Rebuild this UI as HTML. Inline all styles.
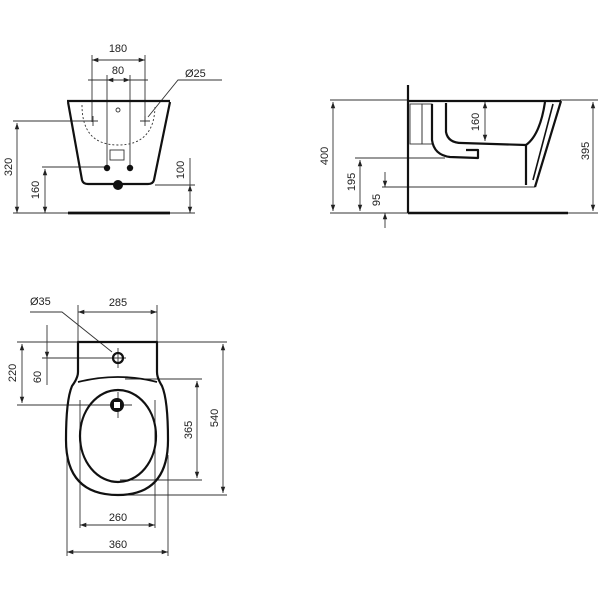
<!DOCTYPE html>
<html><head><style>body{margin:0;background:#fff}svg{display:block}text{font-family:"Liberation Sans",sans-serif;font-size:11px;fill:#222}</style></head><body>
<svg width="600" height="600" viewBox="0 0 600 600">
<defs>
<marker id="a" viewBox="0 0 10 10" refX="10" refY="5" markerWidth="7" markerHeight="7" orient="auto-start-reverse"><path d="M0,1.5 L10,5 L0,8.5z" fill="#222"/></marker>
</defs>
<g stroke="#333" stroke-width="0.9" fill="none">
<line x1="92" y1="60" x2="145" y2="60" marker-start="url(#a)" marker-end="url(#a)"/>
<line x1="107" y1="80" x2="130" y2="80" marker-start="url(#a)" marker-end="url(#a)"/>
<line x1="92" y1="55" x2="92" y2="122"/><line x1="145" y1="55" x2="145" y2="122"/>
<line x1="88" y1="80" x2="107" y2="80"/><line x1="130" y1="80" x2="148" y2="80"/>
<line x1="107" y1="75" x2="107" y2="168"/><line x1="130" y1="75" x2="130" y2="168"/>
<polyline points="222,80 178,80 148,117"/>
<line x1="13" y1="121" x2="92" y2="121"/>
<line x1="17" y1="123" x2="17" y2="213" marker-start="url(#a)" marker-end="url(#a)"/>
<line x1="42" y1="167" x2="107" y2="167"/>
<line x1="45" y1="169" x2="45" y2="213" marker-start="url(#a)" marker-end="url(#a)"/>
<line x1="13" y1="213" x2="68" y2="213"/>
<line x1="155" y1="185" x2="195" y2="185"/><line x1="170" y1="213" x2="195" y2="213"/>
<line x1="190" y1="158" x2="190" y2="185"/>
<line x1="190" y1="185" x2="190" y2="213" marker-start="url(#a)" marker-end="url(#a)"/>
<path d="M82,105 Q82,145 118,145 Q155,145 155,105" stroke-dasharray="2,2"/>
<rect x="110" y="150" width="14" height="10"/>
<circle cx="118" cy="110" r="2"/>
<path d="M88,121 h10 M93,116 v10 M140,121 h10 M145,116 v10"/>
<line x1="330" y1="100" x2="408" y2="100"/><line x1="560" y1="100" x2="598" y2="100"/>
<line x1="333" y1="102" x2="333" y2="211" marker-start="url(#a)" marker-end="url(#a)"/>
<line x1="330" y1="213" x2="408" y2="213"/><line x1="568" y1="213" x2="598" y2="213"/>
<line x1="593" y1="102" x2="593" y2="211" marker-start="url(#a)" marker-end="url(#a)"/>
<line x1="355" y1="158" x2="445" y2="158"/>
<line x1="360" y1="160" x2="360" y2="211" marker-start="url(#a)" marker-end="url(#a)"/>
<line x1="382" y1="187" x2="535" y2="187"/>
<line x1="385" y1="172" x2="385" y2="187" marker-end="url(#a)"/>
<line x1="385" y1="213" x2="385" y2="228" marker-start="url(#a)"/>
<line x1="485" y1="102" x2="485" y2="141" marker-start="url(#a)" marker-end="url(#a)"/>
<rect x="410" y="104" width="12" height="40"/><rect x="422" y="104" width="10" height="40"/>
<polyline points="30,312 62,312 112,352"/>
<line x1="78" y1="312" x2="157" y2="312" marker-start="url(#a)" marker-end="url(#a)"/>
<line x1="78" y1="305" x2="78" y2="342"/><line x1="157" y1="305" x2="157" y2="342"/>
<line x1="17" y1="342" x2="78" y2="342"/><line x1="157" y1="342" x2="227" y2="342"/>
<line x1="22" y1="344" x2="22" y2="403" marker-start="url(#a)" marker-end="url(#a)"/>
<line x1="17" y1="405" x2="132" y2="405"/>
<line x1="42" y1="358" x2="126" y2="358"/>
<line x1="47" y1="325" x2="47" y2="358" marker-end="url(#a)"/>
<line x1="47" y1="358" x2="47" y2="385"/>
<line x1="118" y1="348" x2="118" y2="368"/>
<line x1="118" y1="392" x2="118" y2="418"/>
<line x1="125" y1="379" x2="202" y2="379"/><line x1="120" y1="480" x2="202" y2="480"/>
<line x1="197" y1="381" x2="197" y2="478" marker-start="url(#a)" marker-end="url(#a)"/>
<line x1="120" y1="495" x2="227" y2="495"/>
<line x1="223" y1="344" x2="223" y2="493" marker-start="url(#a)" marker-end="url(#a)"/>
<line x1="80" y1="400" x2="80" y2="528"/><line x1="155" y1="400" x2="155" y2="528"/>
<line x1="80" y1="525" x2="155" y2="525" marker-start="url(#a)" marker-end="url(#a)"/>
<line x1="67" y1="455" x2="67" y2="556"/><line x1="168" y1="455" x2="168" y2="556"/>
<line x1="67" y1="552" x2="168" y2="552" marker-start="url(#a)" marker-end="url(#a)"/>
</g>
<g stroke="#111" stroke-width="2.2" fill="none" stroke-linejoin="round">
<line x1="67" y1="101" x2="170" y2="101"/>
<path d="M68,102 L82,180 Q83,184 88,184 L148,184 Q153,184 154,180 L170,102"/>
<line x1="68" y1="213" x2="170" y2="213" stroke-width="2.8"/>
<line x1="408" y1="85" x2="408" y2="213"/>
<line x1="408" y1="213" x2="568" y2="213" stroke-width="2.6"/>
<line x1="408" y1="101" x2="561" y2="101"/>
<path d="M561,101 L535,187"/>
<path d="M553,104 L533,180" stroke-width="1.6"/>
<path d="M545,102 Q540,135 526,145 L526,185"/>
<path d="M446,103 L446,132 Q448,143 462,143 L526,145"/>
<path d="M432,104 L432,140 Q434,155 450,157 L478,158 L478,150 L466,150"/>
<path d="M78,342 L157,342 L157,372 Q157,378 162,386 Q168,400 168,440 Q168,495 118,495 Q66,495 66,440 Q66,400 72,386 Q78,378 78,372 Z"/>
<ellipse cx="118" cy="436" rx="38" ry="46"/>
<path d="M78,382 Q118,372 157,382" stroke-width="1.8"/>
</g>
<circle cx="107" cy="168" r="3.2" fill="#111"/><circle cx="130" cy="168" r="3.2" fill="#111"/>
<circle cx="118" cy="185" r="5" fill="#111"/>
<circle cx="118" cy="358" r="5" fill="none" stroke="#111" stroke-width="2.2"/>
<circle cx="117" cy="405" r="7" fill="#111"/><rect x="114" y="402" width="6" height="6" fill="#fff"/>
<text x="118" y="52" text-anchor="middle">180</text>
<text x="118" y="74" text-anchor="middle">80</text>
<text x="185" y="77">Ø25</text>
<text transform="translate(12,167) rotate(-90)" text-anchor="middle">320</text>
<text transform="translate(39,190) rotate(-90)" text-anchor="middle">160</text>
<text transform="translate(184,170) rotate(-90)" text-anchor="middle">100</text>
<text transform="translate(328,156) rotate(-90)" text-anchor="middle">400</text>
<text transform="translate(355,182) rotate(-90)" text-anchor="middle">195</text>
<text transform="translate(380,200) rotate(-90)" text-anchor="middle">95</text>
<text transform="translate(479,122) rotate(-90)" text-anchor="middle">160</text>
<text transform="translate(589,151) rotate(-90)" text-anchor="middle">395</text>
<text x="30" y="305">Ø35</text>
<text x="118" y="306" text-anchor="middle">285</text>
<text transform="translate(16,373) rotate(-90)" text-anchor="middle">220</text>
<text transform="translate(41,377) rotate(-90)" text-anchor="middle">60</text>
<text transform="translate(192,430) rotate(-90)" text-anchor="middle">365</text>
<text transform="translate(218,418) rotate(-90)" text-anchor="middle">540</text>
<text x="118" y="521" text-anchor="middle">260</text>
<text x="118" y="548" text-anchor="middle">360</text>
</svg>
</body></html>
